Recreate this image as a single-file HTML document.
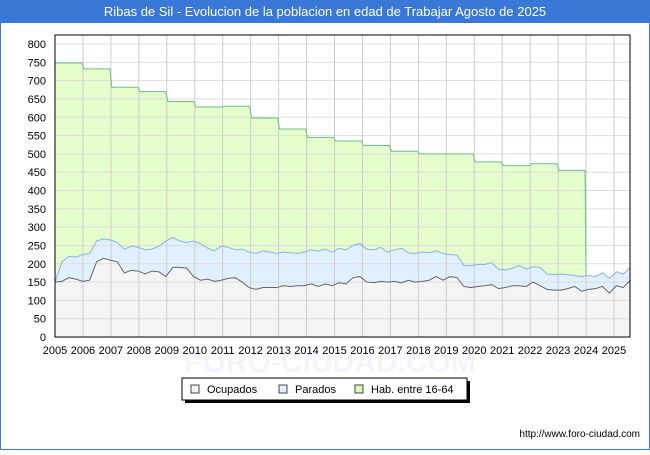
<!DOCTYPE html>
<html><head><meta charset="utf-8"><style>
body{margin:0;width:650px;height:450px;overflow:hidden;background:#fff;font-family:"Liberation Sans","DejaVu Sans",sans-serif}
</style></head><body>
<svg width="650" height="450" xmlns="http://www.w3.org/2000/svg">
<rect x="0.5" y="0.5" width="649" height="449" fill="#fff" stroke="#3a78d8" stroke-width="1"/>
<rect x="0" y="0" width="650" height="23" fill="#3a78d8"/>
<text x="325" y="16" text-anchor="middle" fill="#fff" font-size="13">Ribas de Sil - Evolucion de la poblacion en edad de Trabajar Agosto de 2025</text>
<text x="330" y="372" text-anchor="middle" fill="#f3f4fc" font-size="30" font-weight="bold">FORO-CIUDAD.COM</text>
<g id="plot"></g>
<g>
<rect x="185" y="381" width="285" height="22" fill="#000"/>
<rect x="182" y="378" width="285" height="22" fill="#fff" stroke="#000"/>
<g><rect x="191" y="385" width="8" height="8" fill="#f4f4f4" stroke="#444"/><text x="207" y="393" font-size="11">Ocupados</text></g>
<g><rect x="279" y="385" width="8" height="8" fill="#dfeeff" stroke="#444"/><text x="295" y="393" font-size="11">Parados</text></g>
<g><rect x="355" y="385" width="8" height="8" fill="#d9fbb9" stroke="#444"/><text x="371" y="393" font-size="11">Hab. entre 16-64</text></g>
</g>
<text x="640" y="437" text-anchor="end" font-size="10" fill="#000">http://www.foro-ciudad.com</text>
</svg>
<script>
const years=[2005,2006,2007,2008,2009,2010,2011,2012,2013,2014,2015,2016,2017,2018,2019,2020,2021,2022,2023,2024,2025];
const yTicks=[0,50,100,150,200,250,300,350,400,450,500,550,600,650,700,750,800];
const habYears=[2005,2006,2007,2008,2009,2010,2011,2012,2013,2014,2015,2016,2017,2018,2019,2020,2021,2022,2023];
const habValues=[748,732,682,670,643,628,630,598,568,545,535,523,507,500,500,478,468,473,455];
const totalValues=[150,205,220,218,225,228,262,268,265,258,240,248,245,238,240,248,262,272,262,258,262,255,243,235,248,245,238,240,232,228,235,232,228,232,230,228,232,238,235,240,232,242,238,250,255,240,238,245,232,238,242,230,228,232,230,235,228,225,224,195,195,198,198,203,185,183,188,195,185,192,190,172,170,172,170,168,165,168,165,175,160,178,172,190];
const ocupValues=[150,152,162,158,152,155,205,215,210,205,175,182,180,172,180,178,165,190,190,188,165,155,158,152,155,160,162,150,135,130,135,135,135,140,138,140,140,145,138,145,140,148,145,162,165,150,148,152,150,152,148,155,150,152,155,165,155,165,162,138,135,138,140,143,132,135,140,140,138,150,140,130,128,128,132,138,125,130,132,138,120,140,135,155];
const L=55,R=630,T=35,B=337;
const X=t=>L+(t-2005)*27.95;
const Y=v=>B-v*(293/800);
const NS="http://www.w3.org/2000/svg";
const g=document.getElementById('plot');
function mk(tag,attrs,name){const e=document.createElementNS(NS,tag);for(const k in attrs)e.setAttribute(k,attrs[k]);


g.appendChild(e);return e;}
mk('rect',{x:L,y:T,width:R-L,height:B-T,fill:'#fff'},'plot-background');
const step=20.58/(totalValues.length-1);
const tx=i=>2005+i*step;
let hp=`M${X(2005)},${B}`;
habYears.forEach((yr,i)=>{hp+=` L${X(yr)+(i?1:0)},${Y(habValues[i])} L${X(yr+1)-1},${Y(habValues[i])}`;});
hp+=` L${X(2024)},${Y(totalValues[76])} L${X(2024)},${B} Z`;
mk('path',{d:hp,fill:'#e4fdca'},'hab-area');
let tp=`M${X(2005)},${B}`;totalValues.forEach((v,i)=>tp+=` L${X(tx(i))},${Y(v)}`);tp+=` L${X(tx(totalValues.length-1))},${B} Z`;
mk('path',{d:tp,fill:'#e0f0ff'},'parados-area');
let op=`M${X(2005)},${B}`;ocupValues.forEach((v,i)=>op+=` L${X(tx(i))},${Y(v)}`);op+=` L${X(tx(ocupValues.length-1))},${B} Z`;
mk('path',{d:op,fill:'#f4f4f4'},'ocupados-area');
yTicks.forEach(v=>{mk('line',{x1:L,x2:R,y1:Y(v),y2:Y(v),stroke:'#ddd','stroke-width':1},'y-gridline');
const t=mk('text',{x:46,y:Y(v)+4,'text-anchor':'end','font-size':11},'y-tick-label');t.textContent=v;});
years.forEach(yr=>{if(yr>2005)mk('line',{x1:X(yr),x2:X(yr),y1:T,y2:B,stroke:'#ccc','stroke-width':1},'x-gridline');
const t=mk('text',{x:X(yr),y:354,'text-anchor':'middle','font-size':11},'x-tick-label');t.textContent=yr;});
let hl='';habYears.forEach((yr,i)=>{hl+=(i?' L':'M')+`${X(yr)+(i?1:0)},${Y(habValues[i])} L${X(yr+1)-1},${Y(habValues[i])}`;});
hl+=` L${X(2024)},${Y(totalValues[76])}`;
mk('path',{d:hl,fill:'none',stroke:'#6cbf8a','stroke-width':1},'hab-line');
mk('path',{d:totalValues.map((v,i)=>(i?'L':'M')+X(tx(i))+','+Y(v)).join(' '),fill:'none',stroke:'#8ab0ea','stroke-width':1},'parados-line');
mk('path',{d:ocupValues.map((v,i)=>(i?'L':'M')+X(tx(i))+','+Y(v)).join(' '),fill:'none',stroke:'#666','stroke-width':1},'ocupados-line');
mk('rect',{x:L,y:T,width:R-L,height:B-T,fill:'none',stroke:'#000','stroke-width':1},'plot-border');
</script>
</body></html>
